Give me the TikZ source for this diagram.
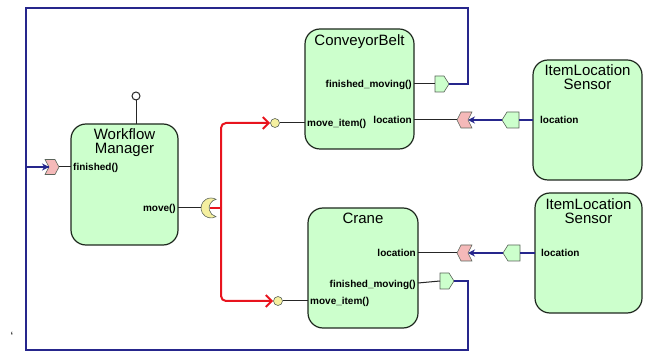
\documentclass[tikz,border=0pt]{standalone}
\usepackage{fontspec}
\setmainfont{Liberation Sans}
\usetikzlibrary{arrows.meta}
\definecolor{compfill}{RGB}{204,255,204}
\definecolor{compdraw}{RGB}{30,40,30}
\definecolor{navy}{RGB}{38,38,140}
\definecolor{linkred}{RGB}{232,20,30}
\definecolor{pinkport}{RGB}{245,185,185}
\definecolor{yellowport}{RGB}{245,240,160}
\definecolor{portdraw}{RGB}{90,100,90}
\tikzset{
  comp/.style={draw=compdraw, fill=compfill, line width=1.2pt, rounded corners=15pt, inner sep=0pt},
  title/.style={font=\fontsize{15}{15}\selectfont, anchor=base, inner sep=0pt},
  title2/.style={align=center, anchor=north, inner sep=0pt, font=\fontsize{15}{14}\selectfont},
  plabel/.style={font=\fontsize{10}{10}\selectfont\bfseries, inner sep=0pt},
  wire/.style={draw=black!85, line width=1pt},
  bus/.style={draw=navy, line width=1.4pt},
  redwire/.style={draw=linkred, line width=2pt, rounded corners=5pt},
  redarrow/.style={-{Straight Barb[length=6pt,width=12pt]}},
  busarrow/.style={-{Stealth[length=7pt,width=7pt]}},
  outport/.style={draw=portdraw, fill=compfill, line width=0.6pt},
  inport/.style={draw=portdraw, fill=pinkport, line width=0.6pt},
  ballport/.style={circle, draw=portdraw, fill=yellowport, line width=0.6pt, minimum size=9pt, inner sep=0pt},
  outright/.pic={\draw[outport] (0,-8) -- (9,-8) -- (14,0) -- (9,8) -- (0,8) -- cycle;
    \coordinate (-w) at (0,0); \coordinate (-e) at (14,0);},
  outleft/.pic={\draw[outport] (0,0) -- (5,-8) -- (17,-8) -- (17,8) -- (5,8) -- cycle;
    \coordinate (-w) at (0,0); \coordinate (-e) at (17,0);},
  inright/.pic={\draw[inport] (0,-7.5) -- (10,-7.5) -- (14,0) -- (10,7.5) -- (0,7.5) -- (4,0) -- cycle;
    \coordinate (-w) at (4,0); \coordinate (-e) at (14,0);},
  inleft/.pic={\draw[inport] (0,0) -- (4,-8) -- (15,-8) -- (11,0) -- (15,8) -- (4,8) -- cycle;
    \coordinate (-w) at (0,0); \coordinate (-e) at (11,0);},
  socketpic/.pic={\draw[draw=portdraw, fill=yellowport, line width=0.6pt]
      (0,0) ++(60:10) arc[start angle=60, end angle=300, radius=10]
      arc[start angle=257, end angle=103, radius=8.89] -- cycle;
    \coordinate (-w) at (-10,0); \coordinate (-e) at (-1,0);},
}
\begin{document}
\begin{tikzpicture}[x=1pt,y=-1pt]
\useasboundingbox (0,0) rectangle (645,352);

% components
\node[comp, minimum width=107pt, minimum height=121pt] (wm) at (124.5,184.5) {};
\node[comp, minimum width=109pt, minimum height=120pt] (cb) at (359.5,89) {};
\node[comp, minimum width=110pt, minimum height=120pt] (cr) at (363,268) {};
\node[comp, minimum width=109pt, minimum height=120pt] (s1) at (587.5,120) {};
\node[comp, minimum width=107pt, minimum height=120pt] (s2) at (588.5,253) {};

% titles
\node[title2] (wmt) at (124.5,128.6) {Workflow\\Manager};
\node[title] (cbt) at (359.5,45.5) {ConveyorBelt};
\node[title] (crt) at (363,223.5) {Crane};
\node[title2] (s1t) at (587.5,64.5) {ItemLocation\\Sensor};
\node[title2] (s2t) at (588.5,198) {ItemLocation\\Sensor};

% port labels
\node[plabel, anchor=base west] (lwmfin) at (73,170.5) {finished()};
\node[plabel, anchor=base east] (lwmmove) at (176,211.5) {move()};
\node[plabel, anchor=base east] (lcbfm) at (412,87.5) {finished\_moving()};
\node[plabel, anchor=base west] (lcbmi) at (307,126.5) {move\_item()};
\node[plabel, anchor=base east] (lcbloc) at (412,123.5) {location};
\node[plabel, anchor=base east] (lcrloc) at (416,256.5) {location};
\node[plabel, anchor=base east] (lcrfm) at (416,287.5) {finished\_moving()};
\node[plabel, anchor=base west] (lcrmi) at (310,304.5) {move\_item()};
\node[plabel, anchor=base west] (ls1loc) at (540,123.5) {location};
\node[plabel, anchor=base west] (ls2loc) at (541,256.5) {location};

% attachment points on component borders
\coordinate (wmfinA) at (71,167);
\coordinate (wmmoveA) at (178,208);
\coordinate (cbfmA) at (414,84);
\coordinate (cbmiA) at (305,123);
\coordinate (cblocA) at (414,120);
\coordinate (crlocA) at (418,253);
\coordinate (crfmA) at (418,283);
\coordinate (crmiA) at (308,301);
\coordinate (s1locA) at (533,120);
\coordinate (s2locA) at (535,253);

% lollipop
\coordinate (wmtop) at (136,124);
\node[circle, draw=black!85, fill=white, line width=1pt, minimum size=8pt, inner sep=0pt] (lolli) at (136,96) {};
\draw[wire] (wmtop) -- (lolli.south);

% ports
\pic (wmfin) at (45,167) {inright};
\pic (sock) at (211,208) {socketpic};
\pic (cbfm) at (435,84) {outright};
\pic (crfm) at (440,281) {outright};
\pic (cbloc) at (457,120) {inleft};
\pic (crloc) at (457,253) {inleft};
\pic (s1loc) at (502,120) {outleft};
\pic (s2loc) at (503,253) {outleft};
\node[ballport] (cbball) at (275,123) {};
\node[ballport] (crball) at (278,301) {};

% short black stubs
\draw[wire] (wmfin-e) -- (wmfinA);
\draw[wire] (wmmoveA) -- (sock-w);
\draw[wire] (cbfmA) -- (cbfm-w);
\draw[wire] (crfmA) -- (crfm-w);
\draw[wire] (cblocA) -- (cbloc-w);
\draw[wire] (crlocA) -- (crloc-w);
\draw[wire] (cbball.east) -- (cbmiA);
\draw[wire] (crball.east) -- (crmiA);
\draw[bus] (s1loc-e) -- (s1locA);
\draw[bus] (s2loc-e) -- (s2locA);

% blue connectors
\coordinate (ftr) at (468,8);
\coordinate (ftl) at (26,8);
\coordinate (fbl) at (26,350);
\coordinate (fbr) at (468,350);
\draw[bus, busarrow] (cbfm-e) -| (ftr) -- (ftl) |- (wmfin-w);
\draw[bus] (crfm-e) -| (fbr) -- (fbl) |- (wmfin-w);
\draw[bus, busarrow] (s1loc-w) -- (cbloc-e);
\draw[bus, busarrow] (s2loc-w) -- (crloc-e);

% red connectors
\coordinate (jr) at (221,208);
\draw[redwire] (sock-e) -- (jr);
\draw[redwire, redarrow] (jr) |- (cbball.west);
\draw[redwire, redarrow] (jr) |- (crball.west);

% stray mark
\node[font=\fontsize{12}{12}\selectfont, inner sep=0pt] (mark) at (12,336) {‘};
\end{tikzpicture}
\end{document}
